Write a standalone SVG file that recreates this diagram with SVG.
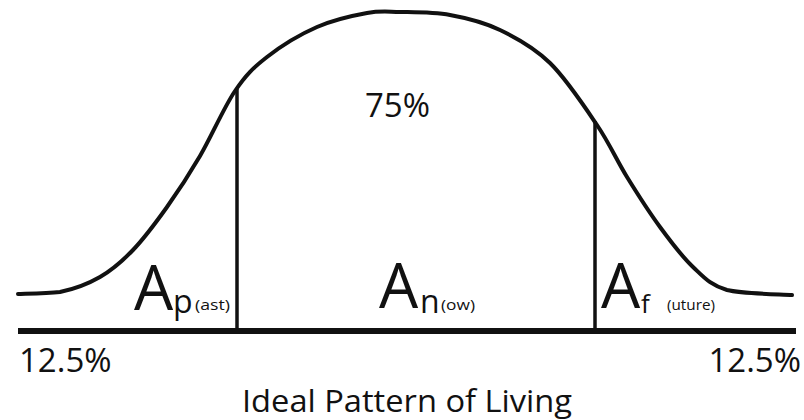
<svg xmlns="http://www.w3.org/2000/svg" width="804" height="420" viewBox="0 0 804 420">
<style>
text{font-family:"Open Sans","Noto Sans","Liberation Sans",sans-serif;fill:#111}
.curve{fill:none;stroke:#111;stroke-width:4;stroke-linecap:round}
.vline{stroke:#111;stroke-width:3.5}
.axis{stroke:#111;stroke-width:6}
.big{font-size:62px}
.sub{font-size:32px}
.tiny{font-size:14px}
.pct{font-size:33px}
</style>
<rect width="804" height="420" fill="#fff"/>
<g id="connectors">
<path class="curve" d="M18,294 C25,293.7 46.3,293.5 60,292 C73.7,289.2 87.8,284 100,277 C112.2,270 121.8,261.7 133,250 C144.2,238.3 155.8,222.7 167,207 C178.2,191.3 188.7,175.3 200,156 C211.3,136.7 223.8,107.5 235,91 C246.2,74.5 253.3,67.7 267,57 C280.7,46.3 300.3,34.3 317,27 C333.7,19.7 353.2,15.5 367,13 C380.8,10.5 386.2,11.7 400,12 C413.8,12.3 433.3,12 450,15 C466.7,18 483.3,22 500,30 C516.7,38 533.8,47.2 550,63 C566.2,78.8 584.2,106 597,125 C609.8,144 616.5,160 627,177 C637.5,194 649,212 660,227 C671,242 681.8,256.5 693,267 C704.2,277.5 710.5,285.3 727,290 C743.5,294 781.2,294.2 792,295"/>
<line class="vline" x1="237" y1="89" x2="237" y2="331"/>
<line class="vline" x1="595" y1="121" x2="595" y2="331"/>
<line class="axis" x1="18" y1="331" x2="796" y2="331"/>
</g>
<g id="label-now-pct"><text class="pct" x="365" y="117">75%</text></g>
<g id="label-past">
<text class="big" x="134" y="310">A</text>
<text class="sub" x="173" y="313">p</text>
<text class="tiny" x="195" y="310" textLength="35" lengthAdjust="spacingAndGlyphs">(ast)</text>
</g>
<g id="label-now">
<text class="big" x="379" y="308">A</text>
<text class="sub" x="420" y="313">n</text>
<text class="tiny" x="441" y="310" textLength="34" lengthAdjust="spacingAndGlyphs">(ow)</text>
</g>
<g id="label-future">
<text class="big" x="601" y="308">A</text>
<text x="641" y="313" style="font-size:26px">f</text>
<text class="tiny" x="667" y="310" textLength="48" lengthAdjust="spacingAndGlyphs">(uture)</text>
</g>
<g id="label-left-pct"><text class="pct" x="19" y="372">12.5%</text></g>
<g id="label-right-pct"><text class="pct" x="801" y="372" text-anchor="end">12.5%</text></g>
<g id="title"><text x="242" y="412" style="font-size:31px" textLength="330" lengthAdjust="spacingAndGlyphs">Ideal Pattern of Living</text></g>
</svg>
